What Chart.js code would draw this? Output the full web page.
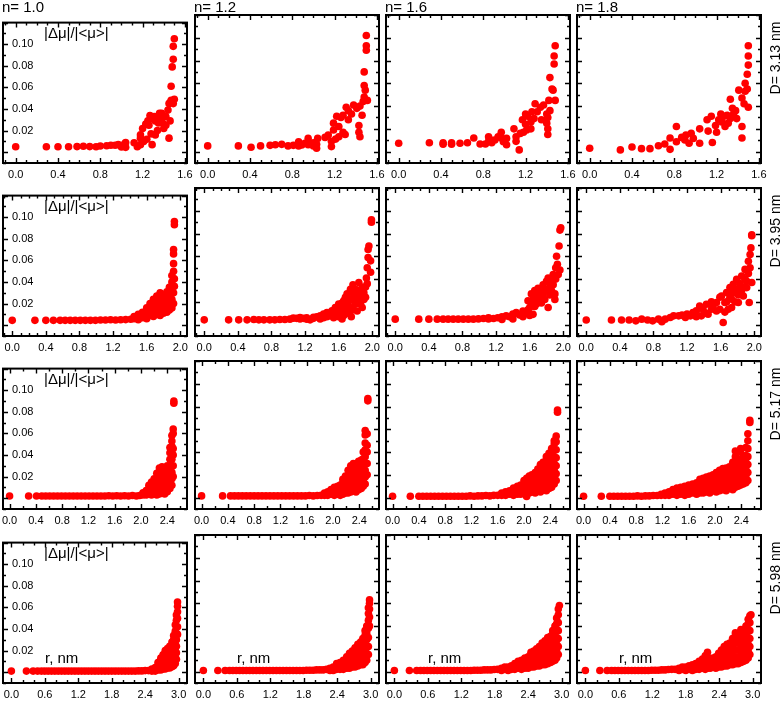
<!DOCTYPE html>
<html>
<head>
<meta charset="utf-8">
<script src="https://cdn.jsdelivr.net/npm/chart.js@4.4.1/dist/chart.umd.min.js"></script>
<style>
  body { margin: 0; width: 783px; height: 702px; position: relative; overflow: hidden; background: #fff;
         font-family: "Liberation Sans", Arial, sans-serif; color: #000; }
  .cell { position: absolute; }
  .txt { position: absolute; white-space: nowrap; line-height: 14px; }
  .rot { transform: translate(-50%, -50%) rotate(-90deg); }
</style>
</head>
<body>
<script>
// labels and axes
const nLabels = ['n= 1.0', 'n= 1.2', 'n= 1.6', 'n= 1.8'];
const dLabels = ['D= 3.13 nm', 'D= 3.95 nm', 'D= 5.17 nm', 'D= 5.98 nm'];
const yTitle = '|Δμ|/|<μ>|';
const xTitle = 'r, nm';
const xTickLabels = [
    [0, 0.4, 0.8, 1.2, 1.6],
    [0, 0.4, 0.8, 1.2, 1.6, 2.0],
    [0, 0.4, 0.8, 1.2, 1.6, 2.0, 2.4],
    [0, 0.6, 1.2, 1.8, 2.4, 3.0]
];
const yTickLabels = [0.02, 0.04, 0.06, 0.08, 0.10];
const xLimits = [[-0.12, 1.62], [-0.11, 2.08], [-0.1, 2.7], [-0.15, 3.15]];
const xMinorStep = [0.1, 0.1, 0.2, 0.2];
const yLimits = [-0.01, 0.12];

// each entry: [r, |dmu|/|<mu>| values at that r ...]
const r1c1 = [
    [0, 0.005], [0.29, 0.005], [0.40, 0.005], [0.50, 0.005], [0.58, 0.0052], [0.64, 0.0055], [0.70, 0.0052],
    [0.76, 0.005], [0.80, 0.0058], [0.86, 0.006], [0.90, 0.0065], [0.94, 0.0065], [0.97, 0.007], [1.00, 0.0048],
    [1.03, 0.0078], [1.04, 0.0045, 0.009], [1.12, 0.0087], [1.15, 0.005], [1.18, 0.007, 0.013, 0.016],
    [1.20, 0.022], [1.21, 0.010], [1.23, 0.026], [1.24, 0.012], [1.25, 0.029], [1.26, 0.025], [1.27, 0.034],
    [1.28, 0.017], [1.29, 0.007, 0.031], [1.31, 0.033], [1.32, 0.016, 0.029], [1.34, 0.020], [1.35, 0.027],
    [1.36, 0.036], [1.37, 0.031], [1.38, 0.036], [1.39, 0.027], [1.40, 0.022], [1.42, 0.025, 0.033],
    [1.44, 0.039], [1.45, 0.013, 0.045], [1.46, 0.029, 0.046], [1.47, 0.048, 0.061], [1.48, 0.047, 0.079],
    [1.49, 0.045, 0.086, 0.098], [1.50, 0.049, 0.105]
];
const r1c2 = [
    [0, 0.005], [0.29, 0.005], [0.41, 0.0038], [0.50, 0.005], [0.59, 0.0055], [0.64, 0.006], [0.70, 0.0064],
    [0.76, 0.005], [0.81, 0.0055], [0.86, 0.005, 0.0087], [0.89, 0.0058], [0.92, 0.0073], [0.95, 0.006, 0.0116],
    [0.97, 0.0067], [1.00, 0.005, 0.0078], [1.03, 0.003, 0.0065], [1.04, 0.0116], [1.11, 0.0125], [1.14, 0.0145],
    [1.17, 0.0044, 0.009], [1.19, 0.019, 0.025], [1.21, 0.011], [1.22, 0.031], [1.24, 0.013, 0.022], [1.26, 0.030],
    [1.28, 0.017, 0.032], [1.30, 0.015], [1.31, 0.039], [1.33, 0.028, 0.036], [1.36, 0.033], [1.38, 0.041],
    [1.41, 0.038], [1.43, 0.017, 0.023], [1.44, 0.013, 0.040], [1.46, 0.032], [1.47, 0.044],
    [1.48, 0.048, 0.058, 0.070], [1.49, 0.054], [1.50, 0.089, 0.093, 0.102], [1.51, 0.045]
];
const r1c3 = [
    [0, 0.0073], [0.29, 0.0078], [0.42, 0.0065, 0.0078], [0.50, 0.0065, 0.0078], [0.58, 0.0073], [0.65, 0.0078],
    [0.71, 0.012], [0.77, 0.0067], [0.82, 0.0067], [0.85, 0.009, 0.013], [0.88, 0.0078, 0.010], [0.91, 0.0102],
    [0.94, 0.013], [0.97, 0.012, 0.017], [0.99, 0.0087], [1.02, 0.006, 0.0116], [1.09, 0.020], [1.11, 0.009, 0.0131],
    [1.14, 0.0015], [1.15, 0.016], [1.17, 0.028], [1.18, 0.017], [1.20, 0.024, 0.033], [1.21, 0.019], [1.22, 0.031],
    [1.25, 0.020, 0.026], [1.26, 0.035], [1.28, 0.029], [1.29, 0.042], [1.31, 0.035], [1.34, 0.039], [1.35, 0.028],
    [1.37, 0.041], [1.40, 0.025, 0.033], [1.41, 0.015, 0.020, 0.030], [1.42, 0.045], [1.43, 0.036, 0.065],
    [1.45, 0.055], [1.46, 0.054], [1.47, 0.077, 0.084], [1.48, 0.045, 0.093]
];
const r1c4 = [
    [0, 0.003], [0.29, 0.0015], [0.40, 0.004], [0.49, 0.0026], [0.57, 0.0026], [0.65, 0.0052], [0.71, 0.0067],
    [0.76, 0.002, 0.012], [0.82, 0.0087, 0.022], [0.87, 0.0125], [0.90, 0.0102], [0.91, 0.0146], [0.94, 0.0073],
    [0.96, 0.016], [0.98, 0.0116], [1.04, 0.0073, 0.020], [1.11, 0.028], [1.12, 0.018], [1.15, 0.031], [1.16, 0.008],
    [1.19, 0.023], [1.20, 0.017], [1.22, 0.028], [1.24, 0.033], [1.25, 0.026], [1.27, 0.031], [1.28, 0.022],
    [1.30, 0.032], [1.31, 0.025], [1.33, 0.029, 0.046], [1.35, 0.038], [1.36, 0.033], [1.38, 0.036], [1.39, 0.029],
    [1.41, 0.054], [1.44, 0.012, 0.022, 0.047], [1.46, 0.042], [1.47, 0.053, 0.060], [1.49, 0.055, 0.068],
    [1.50, 0.039, 0.076, 0.084, 0.093]
];

const r2c1 = [
    [0, 0.0045], [0.27, 0.0045], [0.40, 0.0045], [0.49, 0.0045], [0.57, 0.0045], [0.63, 0.0045], [0.69, 0.0045],
    [0.75, 0.0045], [0.81, 0.0045], [0.87, 0.0045], [0.93, 0.0045], [0.99, 0.0045], [1.05, 0.0048], [1.11, 0.0048],
    [1.17, 0.005], [1.23, 0.0048], [1.29, 0.005], [1.35, 0.0052], [1.41, 0.0055], [1.45, 0.006, 0.008],
    [1.50, 0.005, 0.010], [1.55, 0.007, 0.012], [1.60, 0.006, 0.011, 0.016], [1.64, 0.009, 0.015, 0.020],
    [1.68, 0.008, 0.013, 0.019, 0.024], [1.72, 0.010, 0.016, 0.022, 0.027], [1.76, 0.009, 0.014, 0.020, 0.026, 0.030],
    [1.80, 0.011, 0.017, 0.023, 0.028], [1.84, 0.012, 0.018, 0.025, 0.031], [1.87, 0.014, 0.020, 0.027, 0.035],
    [1.90, 0.016, 0.024, 0.033, 0.040, 0.046], [1.92, 0.020, 0.030, 0.050, 0.057, 0.066, 0.070],
    [1.93, 0.036, 0.043, 0.093, 0.096]
];
const r2c2 = [
    [0, 0.0042], [0.29, 0.0042], [0.41, 0.0042], [0.51, 0.0042], [0.59, 0.0045], [0.65, 0.0042], [0.71, 0.0042],
    [0.78, 0.0042], [0.84, 0.0042], [0.90, 0.0045], [0.96, 0.0045], [1.02, 0.0048], [1.06, 0.0057], [1.10, 0.0055],
    [1.14, 0.005, 0.0062], [1.18, 0.0055], [1.22, 0.0048, 0.006], [1.26, 0.0042], [1.30, 0.0055, 0.0065],
    [1.34, 0.0068], [1.38, 0.005, 0.0077], [1.42, 0.006, 0.0092], [1.46, 0.007, 0.0106], [1.48, 0.0077],
    [1.52, 0.008, 0.0121], [1.54, 0.006], [1.56, 0.010, 0.015], [1.60, 0.007, 0.012, 0.018], [1.62, 0.009, 0.014],
    [1.64, 0.005, 0.019], [1.66, 0.008, 0.015, 0.021], [1.68, 0.012, 0.024], [1.70, 0.010, 0.020, 0.027],
    [1.72, 0.016, 0.023], [1.74, 0.012, 0.022, 0.031], [1.75, 0.007], [1.77, 0.014, 0.028, 0.035], [1.78, 0.021],
    [1.80, 0.018, 0.025, 0.031], [1.82, 0.012, 0.020], [1.84, 0.030, 0.037], [1.86, 0.018, 0.024, 0.030],
    [1.88, 0.015, 0.033], [1.90, 0.022, 0.028], [1.92, 0.024, 0.033], [1.93, 0.041], [1.94, 0.036, 0.050],
    [1.95, 0.059, 0.066], [1.96, 0.069], [1.98, 0.046, 0.056], [1.99, 0.090, 0.092]
];
const r2c3 = [
    [0, 0.0048], [0.28, 0.0048], [0.40, 0.0048], [0.50, 0.0048], [0.57, 0.0048], [0.63, 0.0048], [0.69, 0.0048],
    [0.75, 0.0048], [0.81, 0.0048], [0.87, 0.0048], [0.93, 0.0048], [0.99, 0.005], [1.05, 0.0054],
    [1.11, 0.005, 0.006], [1.17, 0.0054], [1.22, 0.006], [1.27, 0.0045, 0.0068], [1.32, 0.0077], [1.36, 0.007],
    [1.40, 0.005, 0.0092], [1.44, 0.0106], [1.48, 0.0085], [1.52, 0.007, 0.012], [1.55, 0.010],
    [1.58, 0.013, 0.021], [1.60, 0.008, 0.015], [1.62, 0.018, 0.027], [1.64, 0.009, 0.022], [1.66, 0.016, 0.030],
    [1.68, 0.018, 0.025], [1.70, 0.021, 0.032], [1.72, 0.024, 0.028], [1.74, 0.019, 0.027], [1.76, 0.026, 0.035],
    [1.78, 0.022, 0.031], [1.80, 0.030, 0.038], [1.82, 0.015, 0.041], [1.84, 0.026, 0.033], [1.86, 0.030, 0.038],
    [1.88, 0.035, 0.044], [1.90, 0.022, 0.027], [1.91, 0.040, 0.050], [1.92, 0.060], [1.93, 0.053], [1.94, 0.044],
    [1.95, 0.069], [1.96, 0.048, 0.083], [1.97, 0.085]
];
const r2c4 = [
    [0, 0.004], [0.30, 0.004], [0.42, 0.004], [0.51, 0.004], [0.59, 0.0033], [0.66, 0.0048], [0.73, 0.004],
    [0.79, 0.0033], [0.86, 0.0048], [0.90, 0.0025], [0.94, 0.0048], [1.00, 0.0063], [1.04, 0.0077], [1.10, 0.0077],
    [1.14, 0.0083], [1.18, 0.0063], [1.20, 0.0092], [1.24, 0.0077], [1.27, 0.0106], [1.31, 0.007, 0.0121],
    [1.35, 0.0164], [1.37, 0.0077], [1.39, 0.0135], [1.43, 0.010, 0.0179], [1.45, 0.0092], [1.49, 0.0135, 0.020],
    [1.51, 0.0164], [1.55, 0.012, 0.0194], [1.59, 0.0135, 0.024], [1.61, 0.0252], [1.63, 0.0019],
    [1.65, 0.011, 0.0194], [1.67, 0.020, 0.0281], [1.69, 0.0135], [1.71, 0.024, 0.0325], [1.73, 0.015, 0.0223],
    [1.75, 0.028, 0.0354], [1.77, 0.020, 0.0281], [1.79, 0.031, 0.0397], [1.81, 0.0194, 0.026], [1.83, 0.0325, 0.036],
    [1.85, 0.030, 0.0426], [1.87, 0.0252, 0.033], [1.89, 0.040, 0.0485], [1.91, 0.0325, 0.038], [1.93, 0.045, 0.0557],
    [1.94, 0.0194], [1.95, 0.050, 0.0616], [1.96, 0.0674], [1.97, 0.037, 0.078, 0.079]
];

const r3c1 = [
    [0, 0.002], [0.29, 0.002], [0.41, 0.002], [0.49, 0.002], [0.55, 0.002], [0.61, 0.002], [0.67, 0.002],
    [0.73, 0.002], [0.79, 0.002], [0.85, 0.002], [0.91, 0.002], [0.97, 0.002], [1.03, 0.002], [1.09, 0.002],
    [1.15, 0.002], [1.21, 0.002], [1.27, 0.002], [1.33, 0.002], [1.39, 0.002], [1.45, 0.002], [1.51, 0.0022],
    [1.57, 0.002], [1.63, 0.0022], [1.69, 0.002], [1.75, 0.0022], [1.81, 0.002], [1.87, 0.0025], [1.93, 0.002],
    [1.98, 0.0025], [2.03, 0.003, 0.005], [2.08, 0.003, 0.007], [2.12, 0.004, 0.009, 0.012],
    [2.16, 0.003, 0.007, 0.011, 0.015], [2.20, 0.004, 0.008, 0.013, 0.018], [2.24, 0.003, 0.008, 0.013, 0.018, 0.023],
    [2.28, 0.004, 0.009, 0.014, 0.019, 0.024, 0.028], [2.32, 0.005, 0.010, 0.015, 0.020, 0.025, 0.029],
    [2.36, 0.004, 0.009, 0.014, 0.019, 0.024, 0.028], [2.40, 0.006, 0.011, 0.016, 0.021, 0.026, 0.030],
    [2.44, 0.009, 0.014, 0.019, 0.024, 0.030, 0.036, 0.042, 0.047],
    [2.47, 0.012, 0.018, 0.024, 0.030, 0.036, 0.042, 0.048, 0.053, 0.058],
    [2.49, 0.020, 0.030, 0.040, 0.046, 0.060, 0.064], [2.50, 0.088, 0.090]
];
const r3c2 = [
    [0, 0.0015], [0.32, 0.0015], [0.44, 0.0015], [0.50, 0.0015], [0.56, 0.0015], [0.62, 0.0015], [0.68, 0.0015],
    [0.74, 0.0015], [0.80, 0.0015], [0.86, 0.0015], [0.92, 0.0015], [0.98, 0.0015], [1.04, 0.0015], [1.10, 0.0015],
    [1.16, 0.0015], [1.22, 0.0015], [1.28, 0.0015], [1.34, 0.0015], [1.40, 0.0015], [1.46, 0.0015], [1.52, 0.0015],
    [1.58, 0.0015], [1.64, 0.0018], [1.70, 0.0015], [1.76, 0.0018], [1.82, 0.002],
    [1.87, 0.002, 0.004], [1.92, 0.002, 0.005], [1.97, 0.003, 0.007], [2.02, 0.002, 0.006, 0.009],
    [2.07, 0.003, 0.007, 0.010], [2.11, 0.002, 0.006, 0.011], [2.15, 0.003, 0.008, 0.013, 0.016],
    [2.19, 0.004, 0.009, 0.014, 0.019], [2.23, 0.004, 0.009, 0.014, 0.019, 0.024],
    [2.27, 0.005, 0.010, 0.015, 0.020, 0.025, 0.028], [2.31, 0.006, 0.011, 0.016, 0.021, 0.026, 0.030],
    [2.35, 0.005, 0.010, 0.015, 0.020, 0.025, 0.030], [2.39, 0.007, 0.012, 0.017, 0.022, 0.027, 0.032],
    [2.43, 0.008, 0.013, 0.018, 0.023, 0.028, 0.033], [2.46, 0.010, 0.016, 0.022, 0.028, 0.034, 0.040],
    [2.49, 0.012, 0.018, 0.024, 0.030, 0.036, 0.042, 0.048, 0.055, 0.059], [2.52, 0.020, 0.030, 0.040, 0.046, 0.056],
    [2.53, 0.085, 0.087]
];
const r3c3 = [
    [0, 0.0012], [0.27, 0.0012], [0.40, 0.0012], [0.46, 0.0012], [0.52, 0.0012], [0.58, 0.0012], [0.64, 0.0012],
    [0.70, 0.0012], [0.76, 0.0012], [0.82, 0.0012], [0.88, 0.0012], [0.94, 0.0012], [1.00, 0.0012], [1.06, 0.0012],
    [1.12, 0.0012], [1.18, 0.0015], [1.24, 0.0012], [1.30, 0.0015], [1.36, 0.0015], [1.42, 0.0018], [1.48, 0.0015],
    [1.54, 0.002], [1.60, 0.002], [1.66, 0.002, 0.004], [1.72, 0.002, 0.005], [1.78, 0.003, 0.006],
    [1.84, 0.002, 0.005, 0.0085], [1.90, 0.003, 0.007, 0.010], [1.95, 0.003, 0.007, 0.011],
    [2.00, 0.004, 0.008, 0.012, 0.015], [2.04, 0.001, 0.006, 0.011, 0.017], [2.08, 0.004, 0.009, 0.014, 0.019],
    [2.12, 0.005, 0.010, 0.015, 0.020], [2.17, 0.004, 0.009, 0.014, 0.019, 0.022],
    [2.21, 0.006, 0.011, 0.016, 0.021, 0.025], [2.25, 0.005, 0.010, 0.015, 0.020, 0.025, 0.029],
    [2.29, 0.007, 0.012, 0.017, 0.022, 0.027, 0.031], [2.34, 0.006, 0.011, 0.016, 0.021, 0.027, 0.033, 0.036],
    [2.38, 0.008, 0.013, 0.018, 0.024, 0.030, 0.036, 0.039], [2.42, 0.009, 0.015, 0.021, 0.027, 0.033, 0.039, 0.043],
    [2.46, 0.012, 0.018, 0.024, 0.030, 0.036, 0.042, 0.047, 0.050],
    [2.49, 0.015, 0.021, 0.028, 0.035, 0.042, 0.049, 0.054], [2.51, 0.075, 0.077]
];
const r3c4 = [
    [0, 0.0012], [0.27, 0.0012], [0.40, 0.0012], [0.46, 0.0012], [0.52, 0.0012], [0.58, 0.0012], [0.64, 0.0012],
    [0.70, 0.0012], [0.76, 0.0012], [0.82, 0.0015], [0.88, 0.0012], [0.94, 0.0015], [1.00, 0.0015], [1.06, 0.0018],
    [1.12, 0.0018], [1.18, 0.002, 0.003], [1.24, 0.002, 0.004], [1.30, 0.002, 0.005], [1.36, 0.003, 0.007],
    [1.42, 0.002, 0.005, 0.0085], [1.48, 0.003, 0.007, 0.009], [1.54, 0.002, 0.006, 0.010],
    [1.60, 0.003, 0.007, 0.011], [1.66, 0.004, 0.008, 0.012], [1.72, 0.003, 0.008, 0.013],
    [1.77, 0.004, 0.009, 0.014, 0.016], [1.82, 0.004, 0.009, 0.014, 0.017], [1.87, 0.005, 0.010, 0.015, 0.018],
    [1.92, 0.004, 0.009, 0.014, 0.019], [1.97, 0.006, 0.011, 0.016, 0.020],
    [2.02, 0.005, 0.010, 0.015, 0.020, 0.022], [2.07, 0.006, 0.011, 0.016, 0.021, 0.024],
    [2.12, 0.007, 0.012, 0.017, 0.022, 0.0255], [2.17, 0.006, 0.011, 0.016, 0.021, 0.026],
    [2.22, 0.008, 0.013, 0.018, 0.023, 0.027], [2.27, 0.007, 0.012, 0.017, 0.022, 0.027, 0.031],
    [2.31, 0.009, 0.014, 0.019, 0.024, 0.030, 0.036, 0.041], [2.35, 0.010, 0.015, 0.020, 0.025, 0.030, 0.034],
    [2.39, 0.011, 0.016, 0.021, 0.027, 0.033, 0.040, 0.043], [2.43, 0.012, 0.018, 0.024, 0.030, 0.036],
    [2.47, 0.013, 0.019, 0.025, 0.031, 0.037, 0.044], [2.50, 0.015, 0.022, 0.029, 0.036, 0.043, 0.050, 0.056],
    [2.53, 0.066, 0.068]
];

const r4c1 = [
    [0, 0.001], [0.27, 0.001], [0.39, 0.001], [0.47, 0.001], [0.54, 0.001], [0.60, 0.001], [0.66, 0.001],
    [0.72, 0.001], [0.78, 0.001], [0.84, 0.001], [0.90, 0.001], [0.96, 0.001], [1.02, 0.001], [1.08, 0.001],
    [1.14, 0.001], [1.20, 0.001], [1.26, 0.001], [1.32, 0.001], [1.38, 0.001], [1.44, 0.001], [1.50, 0.001],
    [1.56, 0.001], [1.62, 0.001], [1.68, 0.001], [1.74, 0.001], [1.80, 0.001], [1.86, 0.001], [1.92, 0.001],
    [1.98, 0.001], [2.04, 0.001], [2.10, 0.001], [2.16, 0.001], [2.22, 0.001], [2.28, 0.0012], [2.34, 0.0012],
    [2.40, 0.0015], [2.46, 0.0015], [2.52, 0.001, 0.003], [2.58, 0.001, 0.0044], [2.63, 0.002, 0.006, 0.009],
    [2.68, 0.002, 0.006, 0.010, 0.013], [2.72, 0.003, 0.007, 0.011, 0.016], [2.76, 0.003, 0.008, 0.013, 0.018, 0.020],
    [2.80, 0.004, 0.009, 0.014, 0.019, 0.022], [2.84, 0.004, 0.009, 0.014, 0.019, 0.024],
    [2.88, 0.005, 0.010, 0.015, 0.020, 0.025, 0.028], [2.91, 0.006, 0.012, 0.018, 0.024, 0.030, 0.034],
    [2.94, 0.008, 0.014, 0.020, 0.026, 0.032, 0.038, 0.044],
    [2.96, 0.012, 0.018, 0.024, 0.030, 0.036, 0.042, 0.048, 0.053], [2.98, 0.035, 0.042, 0.050, 0.056, 0.061, 0.065]
];
const r4c2 = [
    [0, 0.001], [0.26, 0.001], [0.39, 0.001], [0.47, 0.001], [0.53, 0.001], [0.59, 0.001], [0.65, 0.001],
    [0.71, 0.001], [0.77, 0.001], [0.83, 0.001], [0.89, 0.001], [0.95, 0.001], [1.01, 0.001], [1.07, 0.001],
    [1.13, 0.001], [1.19, 0.001], [1.25, 0.001], [1.31, 0.001], [1.37, 0.001], [1.43, 0.001], [1.49, 0.001],
    [1.55, 0.001], [1.61, 0.001], [1.67, 0.001], [1.73, 0.001], [1.79, 0.001], [1.85, 0.0012], [1.91, 0.0012],
    [1.97, 0.0012], [2.03, 0.0015], [2.09, 0.0015], [2.15, 0.0015], [2.21, 0.002],
    [2.27, 0.001, 0.003], [2.33, 0.001, 0.004], [2.39, 0.002, 0.005, 0.007], [2.45, 0.002, 0.005, 0.008],
    [2.51, 0.002, 0.006, 0.010], [2.57, 0.003, 0.007, 0.011, 0.013], [2.62, 0.003, 0.008, 0.013, 0.016],
    [2.67, 0.004, 0.009, 0.014, 0.018], [2.72, 0.004, 0.009, 0.014, 0.019, 0.021],
    [2.77, 0.005, 0.010, 0.015, 0.020, 0.024], [2.82, 0.006, 0.011, 0.016, 0.021, 0.026],
    [2.86, 0.006, 0.012, 0.018, 0.024, 0.029], [2.90, 0.008, 0.014, 0.020, 0.026, 0.032, 0.036],
    [2.93, 0.010, 0.016, 0.022, 0.028, 0.034, 0.040], [2.96, 0.015, 0.022, 0.030, 0.038, 0.045, 0.051, 0.056],
    [2.98, 0.040, 0.048, 0.055, 0.060, 0.063]
];
const r4c3 = [
    [0, 0.001], [0.27, 0.001], [0.40, 0.001], [0.47, 0.001], [0.53, 0.001], [0.59, 0.001], [0.65, 0.001],
    [0.71, 0.001], [0.77, 0.001], [0.83, 0.001], [0.89, 0.001], [0.95, 0.001], [1.01, 0.001], [1.07, 0.001],
    [1.13, 0.001], [1.19, 0.001], [1.25, 0.001], [1.31, 0.001], [1.37, 0.001], [1.43, 0.0012], [1.49, 0.0012],
    [1.55, 0.0012], [1.61, 0.0015], [1.67, 0.0015], [1.73, 0.0015], [1.79, 0.0018], [1.85, 0.002],
    [1.92, 0.001, 0.003], [1.98, 0.002, 0.004], [2.04, 0.001, 0.004], [2.10, 0.002, 0.005],
    [2.16, 0.002, 0.006, 0.007], [2.22, 0.003, 0.007, 0.009], [2.28, 0.002, 0.006, 0.010],
    [2.34, 0.003, 0.007, 0.011, 0.012], [2.40, 0.003, 0.008, 0.013], [2.45, 0.004, 0.009, 0.014, 0.017],
    [2.50, 0.004, 0.009, 0.014, 0.018], [2.55, 0.005, 0.010, 0.015, 0.020], [2.60, 0.005, 0.010, 0.015, 0.020, 0.022],
    [2.65, 0.006, 0.011, 0.016, 0.021, 0.025], [2.70, 0.006, 0.012, 0.018, 0.024, 0.027],
    [2.75, 0.007, 0.013, 0.019, 0.025, 0.030], [2.80, 0.008, 0.014, 0.020, 0.026, 0.031],
    [2.84, 0.009, 0.015, 0.021, 0.027, 0.033, 0.036], [2.88, 0.010, 0.016, 0.022, 0.028, 0.034, 0.040],
    [2.91, 0.012, 0.018, 0.024, 0.030, 0.036, 0.042, 0.047], [2.94, 0.015, 0.022, 0.029, 0.036, 0.043, 0.050, 0.055],
    [2.96, 0.058]
];
const r4c4 = [
    [0, 0.001], [0.26, 0.001], [0.39, 0.001], [0.47, 0.001], [0.53, 0.001], [0.59, 0.001], [0.65, 0.001],
    [0.71, 0.001], [0.77, 0.001], [0.83, 0.001], [0.89, 0.001], [0.95, 0.001], [1.01, 0.001], [1.07, 0.001],
    [1.13, 0.001], [1.19, 0.0012], [1.25, 0.0012], [1.31, 0.0012], [1.37, 0.0015], [1.43, 0.0015], [1.49, 0.0018],
    [1.55, 0.002], [1.61, 0.002], [1.68, 0.001, 0.003], [1.74, 0.002, 0.004], [1.80, 0.001, 0.004],
    [1.86, 0.002, 0.005], [1.92, 0.001, 0.004, 0.006], [1.98, 0.002, 0.005, 0.007], [2.04, 0.002, 0.006, 0.009],
    [2.10, 0.003, 0.007, 0.011], [2.15, 0.002, 0.006, 0.010, 0.014], [2.19, 0.003, 0.008, 0.013, 0.017],
    [2.24, 0.003, 0.007, 0.010], [2.29, 0.004, 0.008, 0.012], [2.34, 0.003, 0.007, 0.011, 0.013],
    [2.39, 0.004, 0.009, 0.014, 0.016], [2.44, 0.004, 0.009, 0.014, 0.019], [2.49, 0.005, 0.010, 0.015, 0.020, 0.022],
    [2.54, 0.005, 0.010, 0.015, 0.020, 0.024], [2.59, 0.006, 0.011, 0.016, 0.021, 0.025],
    [2.64, 0.006, 0.012, 0.018, 0.024, 0.029], [2.69, 0.007, 0.013, 0.019, 0.025, 0.031, 0.034],
    [2.74, 0.007, 0.013, 0.019, 0.025, 0.029], [2.79, 0.008, 0.014, 0.020, 0.026, 0.032, 0.037],
    [2.84, 0.009, 0.015, 0.021, 0.027, 0.033, 0.037], [2.88, 0.010, 0.016, 0.022, 0.028, 0.034, 0.040],
    [2.92, 0.012, 0.018, 0.024, 0.030, 0.036, 0.042, 0.046], [2.95, 0.015, 0.022, 0.029, 0.036, 0.043, 0.049],
    [2.97, 0.050]
];

const panels = [
    [r1c1, r1c2, r1c3, r1c4],
    [r2c1, r2c2, r2c3, r2c4],
    [r3c1, r3c2, r3c3, r3c4],
    [r4c1, r4c2, r4c3, r4c4]
];

// page layout (pixels)
const colLeft = [3, 195, 386, 577];
const rowTop = [15, 188, 361, 535];
const PW = 184, PH = 148;
const PAD_X = 14, PAD_T = 8, LAB_H = 22;
const FONT = '"Liberation Sans", Arial, sans-serif';

const toPoints = cols => cols.flatMap(([x, ...ys]) => ys.map(y => ({ x, y })));

// frame with inward ticks on all four sides
const framePlugin = {
    id: 'frame',
    afterDraw(chart, args, opts) {
        const { ctx, chartArea: a, scales: { x, y } } = chart;
        const near = (v, list) => list.some(m => Math.abs(m - v) < 1e-6);
        ctx.save();
        ctx.strokeStyle = '#000';
        ctx.lineWidth = 1.4;
        ctx.beginPath();
        for (let k = Math.ceil(x.min / opts.xStep - 1e-6); k * opts.xStep <= x.max + 1e-9; k++) {
            const v = k * opts.xStep;
            const px = Math.round(x.getPixelForValue(v)) + 0.5;
            const len = near(v, opts.xMajor) ? 5 : 3;
            ctx.moveTo(px, a.bottom); ctx.lineTo(px, a.bottom - len);
            ctx.moveTo(px, a.top); ctx.lineTo(px, a.top + len);
        }
        for (let k = Math.ceil(y.min / 0.01 - 1e-6); k * 0.01 <= y.max + 1e-9; k++) {
            const py = Math.round(y.getPixelForValue(k * 0.01)) + 0.5;
            const len = k % 2 === 0 ? 5 : 3;
            ctx.moveTo(a.left, py); ctx.lineTo(a.left + len, py);
            ctx.moveTo(a.right, py); ctx.lineTo(a.right - len, py);
        }
        ctx.stroke();
        ctx.lineWidth = 2;
        ctx.strokeRect(a.left, a.top, a.right - a.left, a.bottom - a.top);
        ctx.restore();
    }
};

function addText(text, left, top, size, cls) {
    const d = document.createElement('div');
    d.className = 'txt' + (cls ? ' ' + cls : '');
    d.textContent = text;
    d.style.left = left + 'px';
    d.style.top = top + 'px';
    d.style.fontSize = size + 'px';
    document.body.appendChild(d);
}

panels.forEach((row, r) => row.forEach((cols, c) => {
    const box = document.createElement('div');
    box.className = 'cell';
    box.style.left = (colLeft[c] - PAD_X) + 'px';
    box.style.top = (rowTop[r] - PAD_T) + 'px';
    const cv = document.createElement('canvas');
    cv.width = PW + 2 * PAD_X;
    cv.height = PH + PAD_T + LAB_H;
    box.appendChild(cv);
    document.body.appendChild(box);

    new Chart(cv, {
        type: 'scatter',
        data: {
            datasets: [{
                data: toPoints(cols),
                backgroundColor: '#ff0000',
                borderWidth: 0,
                pointRadius: 3.8,
                pointHoverRadius: 3.8
            }]
        },
        options: {
            responsive: false,
            animation: false,
            events: [],
            layout: { padding: { left: PAD_X, right: PAD_X, top: PAD_T, bottom: 0 } },
            plugins: {
                legend: { display: false },
                tooltip: { enabled: false },
                frame: { xStep: xMinorStep[r], xMajor: xTickLabels[r] }
            },
            scales: {
                x: {
                    type: 'linear',
                    min: xLimits[r][0],
                    max: xLimits[r][1],
                    grid: { display: false, drawTicks: false },
                    border: { display: false },
                    afterBuildTicks: ax => { ax.ticks = xTickLabels[r].map(v => ({ value: v })); },
                    afterFit: ax => { ax.height = LAB_H; },
                    ticks: {
                        padding: 5, color: '#000', maxRotation: 0, autoSkip: false,
                        font: { family: FONT, size: 11 },
                        callback: v => v.toFixed(1)
                    }
                },
                y: {
                    min: yLimits[0],
                    max: yLimits[1],
                    grid: { display: false, drawTicks: false },
                    border: { display: false },
                    afterBuildTicks: ax => { ax.ticks = yTickLabels.map(v => ({ value: v })); },
                    afterFit: ax => { ax.width = 0; },
                    ticks: {
                        display: c === 0, mirror: true, padding: 9, color: '#000',
                        font: { family: FONT, size: 11 },
                        callback: v => v.toFixed(2)
                    }
                }
            }
        },
        plugins: [framePlugin]
    });

    if (c === 0) addText(yTitle, colLeft[c] + 41, rowTop[r] + 11, 15);
    if (r === 3) addText(xTitle, colLeft[c] + 42, rowTop[r] + 116, 15);
}));

nLabels.forEach((t, c) => addText(t, colLeft[c] - 1, 0, 15));
dLabels.forEach((t, r) => addText(t, 775, rowTop[r] + 43, 14, 'rot'));
</script>
</body>
</html>
